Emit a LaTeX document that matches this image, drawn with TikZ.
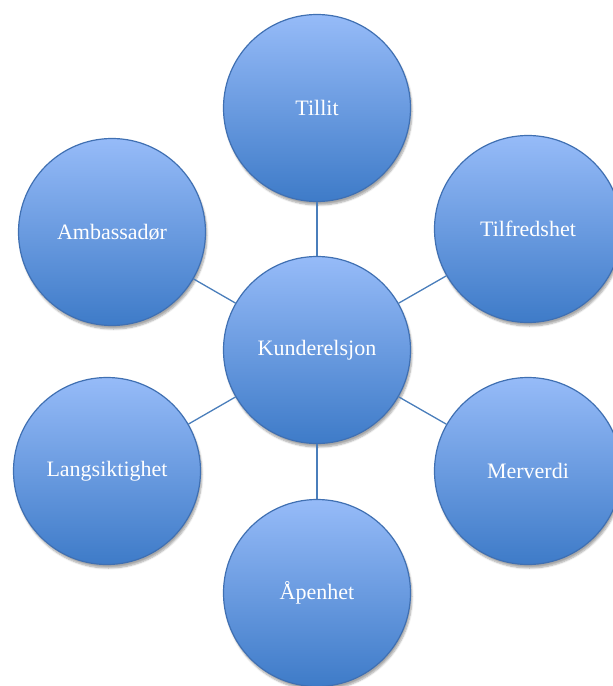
\documentclass[tikz,border=0pt]{standalone}
\usepackage{fontspec}
\setmainfont{Liberation Serif}
\usetikzlibrary{shadows.blur}

\definecolor{bubbletop}{RGB}{150,187,248}
\definecolor{bubblebot}{RGB}{62,123,200}
\definecolor{bubbleline}{RGB}{64,112,178}
\definecolor{linkcol}{RGB}{74,126,187}

\tikzset{
  bubble/.style={circle, minimum size=187pt, inner sep=0pt, draw=bubbleline, line width=1.2pt,
    top color=bubbletop, bottom color=bubblebot, text=white,
    font=\fontsize{22}{26}\selectfont,
    blur shadow={shadow xshift=1.5pt, shadow yshift=-3.5pt, shadow blur steps=6, shadow opacity=35}},
  link/.style={draw=linkcol, line width=1.3pt}
}

\begin{document}
\begin{tikzpicture}[x=1pt, y=-1pt]
\useasboundingbox (0,0) rectangle (613,686);
\node[bubble] (k) at (317,350) {Kunderelsjon};
\node[bubble] (t1) at (317,108) {Tillit};
\node[bubble] (t2) at (528,229) {Tilfredshet};
\node[bubble] (m) at (528,471) {Merverdi};
\node[bubble] (a) at (317,593) {Åpenhet};
\node[bubble] (l) at (107,471) {Langsiktighet};
\node[bubble] (ab) at (112,232) {Ambassadør};
\draw[link] (k) -- (t1);
\draw[link] (k) -- (t2);
\draw[link] (k) -- (m);
\draw[link] (k) -- (a);
\draw[link] (k) -- (l);
\draw[link] (k) -- (ab);
\end{tikzpicture}
\end{document}
